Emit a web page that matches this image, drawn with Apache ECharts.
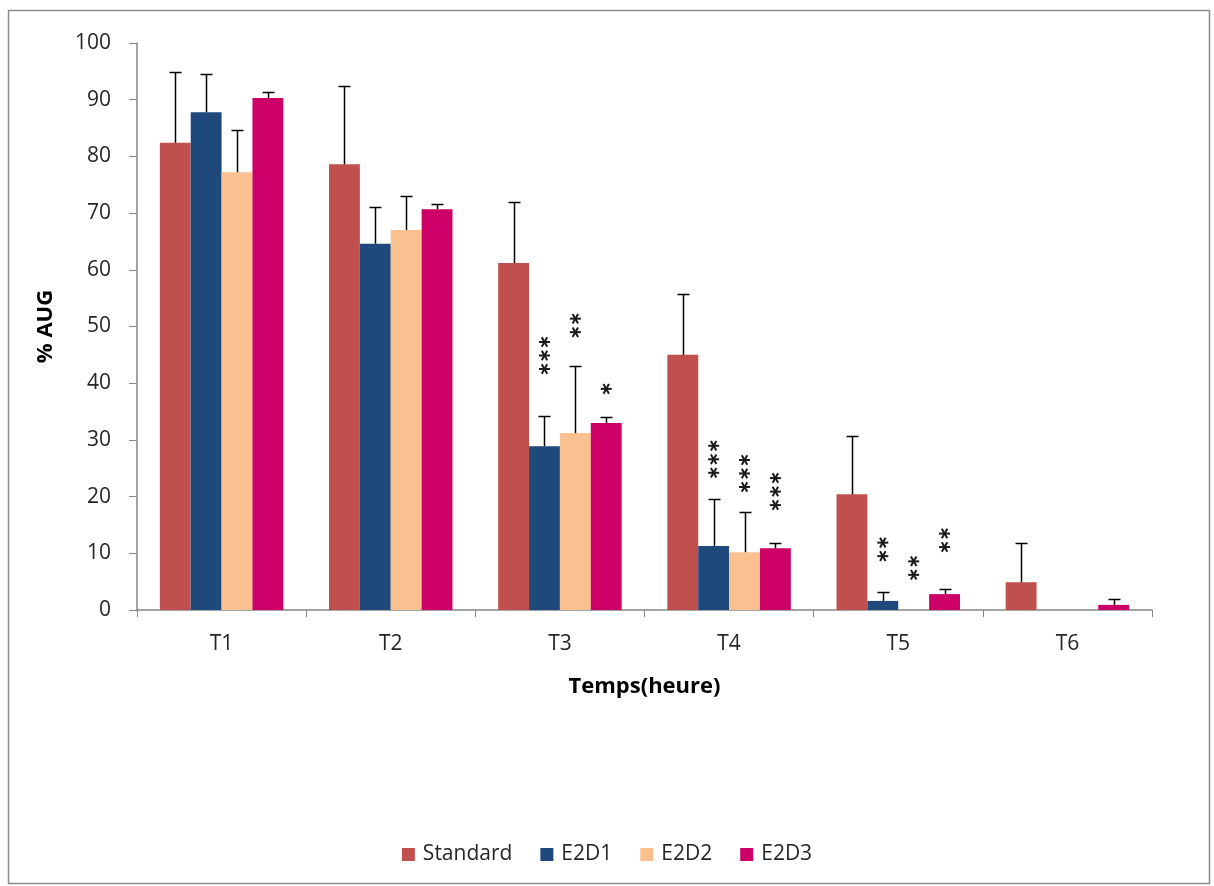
<!DOCTYPE html>
<html>
<head>
<meta charset="utf-8">
<script src="https://cdn.jsdelivr.net/npm/echarts@6/dist/echarts.min.js"></script>
<style>
  html, body { margin: 0; padding: 0; background: #ffffff; }
  #chart { width: 1214px; height: 886px; }
</style>
</head>
<body>
<div id="chart"></div>
<script>
// Categories (time points)
const categories = ['T1', 'T2', 'T3', 'T4', 'T5', 'T6'];
const seriesNames = ['Standard', 'E2D1', 'E2D2', 'E2D3'];

// Mean % AUG per group
const standard = [82.4, 78.6, 61.2, 45.0, 20.4, 4.9];
const e2d1 = [87.8, 64.6, 28.9, 11.3, 1.6, 0];
const e2d2 = [77.2, 67.0, 31.2, 10.2, 0, 0];
const e2d3 = [90.3, 70.7, 33.0, 10.9, 2.8, 0.9];

// Standard deviations (upper error bars)
const standardSd = [12.5, 13.8, 10.8, 10.7, 10.3, 6.9];
const e2d1Sd = [6.7, 6.5, 5.3, 8.3, 1.6, 0];
const e2d2Sd = [7.5, 6.0, 11.8, 7.1, 0, 0];
const e2d3Sd = [1.1, 0.9, 1.0, 0.9, 0.9, 1.0];

// Significance marks: [category index, series index, number of stars, level of lowest star]
const sigMarks = [
  [2, 1, 3, 42.5], [2, 2, 2, 49.0], [2, 3, 1, 39.0],
  [3, 1, 3, 24.2], [3, 2, 3, 21.7], [3, 3, 3, 18.5],
  [4, 1, 2, 9.5], [4, 2, 2, 6.2], [4, 3, 2, 11.1]
];

const yTicks = [0, 10, 20, 30, 40, 50, 60, 70, 80, 90, 100];

const means = [standard, e2d1, e2d2, e2d3];
const sds = [standardSd, e2d1Sd, e2d2Sd, e2d3Sd];
const colors = ['#C0504D', '#1F497D', '#FAC090', '#CC0066'];

const FONT = '"Open Sans", Lato, sans-serif';
const CAT_GAP = 0.27;
const NSER = 4;

function barCenterX(api, catIdx, serIdx) {
  const center = api.coord([catIdx, 0])[0];
  const band = api.size([1, 0])[0];
  const bw = band * (1 - CAT_GAP) / NSER;
  return { x: center + (serIdx - (NSER - 1) / 2) * bw, bw: bw };
}

const barSeries = seriesNames.map((name, i) => ({
  name: name,
  type: 'bar',
  data: means[i],
  barGap: '0%',
  barCategoryGap: (CAT_GAP * 100) + '%',
  itemStyle: { color: colors[i] },
  emphasis: { disabled: true },
  silent: true,
  z: 2
}));

// Upper error bars with caps
const errorSeries = seriesNames.map((name, i) => ({
  type: 'custom',
  name: name + '-err',
  silent: true,
  z: 5,
  data: means[i].map((m, k) => [k, m, sds[i][k]]),
  renderItem: function (params, api) {
    const k = api.value(0);
    const m = api.value(1);
    const s = api.value(2);
    if (!(s > 0)) return null;
    const pos = barCenterX(api, k, i);
    const x = Math.round(pos.x) + 0.5;
    const yb = api.coord([k, m])[1];
    const yt = Math.round(api.coord([k, m + s])[1]) + 0.5;
    const style = { stroke: '#000000', lineWidth: 1.5 };
    return {
      type: 'group',
      children: [
        { type: 'line', shape: { x1: x, y1: yb, x2: x, y2: yt }, style: style },
        { type: 'line', shape: { x1: x - 6, y1: yt, x2: x + 6, y2: yt }, style: style }
      ]
    };
  }
}));

// Asterisks stacked vertically above bars
const starSeries = {
  type: 'custom',
  name: 'sig',
  silent: true,
  z: 6,
  data: sigMarks,
  renderItem: function (params, api) {
    const k = api.value(0);
    const si = api.value(1);
    const n = api.value(2);
    const lvl = api.value(3);
    const pos = barCenterX(api, k, si);
    const cx = pos.x;
    const y0 = api.coord([k, lvl])[1];
    const r = 5.5;
    const children = [];
    for (let j = 0; j < n; j++) {
      const cy = y0 - j * 13.5;
      for (let a = 0; a < 3; a++) {
        const ang = a * Math.PI / 3;
        children.push({
          type: 'line',
          shape: {
            x1: cx - r * Math.cos(ang), y1: cy - r * Math.sin(ang),
            x2: cx + r * Math.cos(ang), y2: cy + r * Math.sin(ang)
          },
          style: { stroke: '#1a1a1a', lineWidth: 2 }
        });
      }
    }
    return { type: 'group', children: children };
  }
};

const chart = echarts.init(document.getElementById('chart'), null, { renderer: 'canvas' });

chart.setOption({
  animation: false,
  backgroundColor: '#ffffff',
  textStyle: { fontFamily: FONT },
  graphic: [{
    type: 'rect',
    shape: { x: 8.5, y: 10.5, width: 1201, height: 873 },
    style: { fill: 'none', stroke: '#8c8c8c', lineWidth: 1.5 },
    silent: true,
    z: -1
  }],
  grid: { left: 137, right: 62, top: 43, bottom: 276, containLabel: false },
  legend: {
    data: seriesNames,
    bottom: 16,
    left: 'center',
    itemWidth: 13,
    itemHeight: 13,
    itemGap: 28,
    icon: 'rect',
    textStyle: { fontFamily: FONT, fontSize: 21, color: '#262626', padding: [0, 0, 0, 3] },
    selectedMode: false
  },
  xAxis: {
    type: 'category',
    data: categories,
    name: 'Temps(heure)',
    nameLocation: 'middle',
    nameGap: 66,
    nameTextStyle: { fontFamily: FONT, fontSize: 22, fontWeight: 'bold', color: '#000000' },
    axisLine: { lineStyle: { color: '#868686', width: 1.5 } },
    axisTick: { show: true, length: 7, alignWithLabel: false, lineStyle: { color: '#868686' } },
    axisLabel: { fontFamily: FONT, fontSize: 21, color: '#262626', margin: 24 },
    splitLine: { show: false }
  },
  yAxis: {
    type: 'value',
    min: yTicks[0],
    max: yTicks[yTicks.length - 1],
    interval: yTicks[1] - yTicks[0],
    name: '% AUG',
    nameLocation: 'middle',
    nameGap: 80,
    nameRotate: 90,
    nameTextStyle: { fontFamily: FONT, fontSize: 22, fontWeight: 'bold', color: '#000000' },
    axisLine: { show: true, lineStyle: { color: '#868686', width: 1.5 } },
    axisTick: { show: true, length: 8, lineStyle: { color: '#868686' } },
    axisLabel: { fontFamily: FONT, fontSize: 21, color: '#262626', margin: 26 },
    splitLine: { show: false }
  },
  series: barSeries.concat(errorSeries, [starSeries])
});
</script>
</body>
</html>
